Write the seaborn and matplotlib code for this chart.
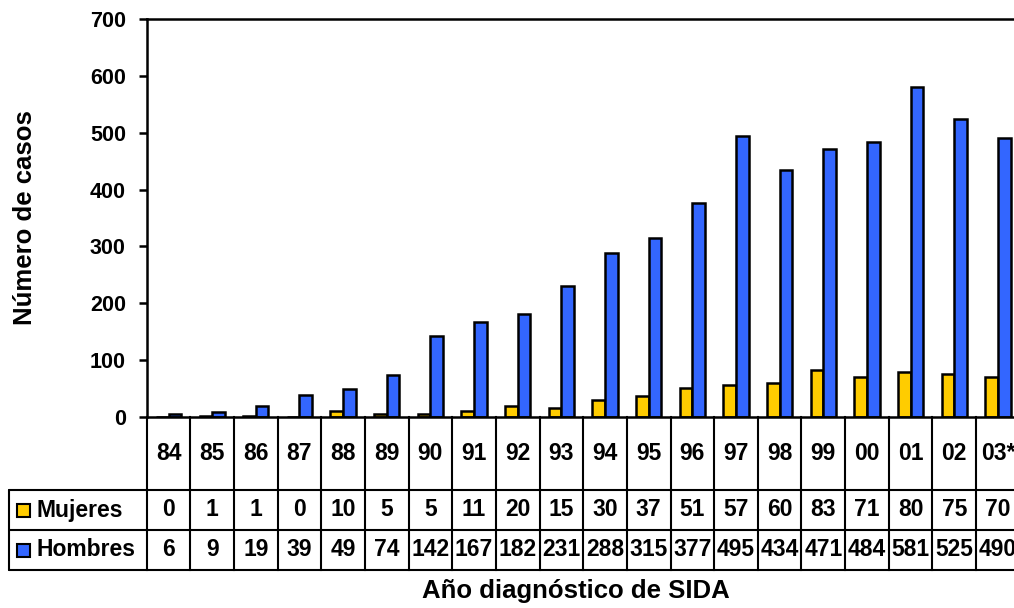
import matplotlib
matplotlib.use("Agg")
import matplotlib.pyplot as plt
import seaborn as sns
import pandas as pd
from matplotlib.lines import Line2D
from matplotlib.patches import Rectangle

# Casos de SIDA por año de diagnóstico y sexo
years = ["84", "85", "86", "87", "88", "89", "90", "91", "92", "93",
         "94", "95", "96", "97", "98", "99", "00", "01", "02", "03*"]
mujeres = [0, 1, 1, 0, 10, 5, 5, 11, 20, 15, 30, 37, 51, 57, 60, 83, 71, 80, 75, 70]
hombres = [6, 9, 19, 39, 49, 74, 142, 167, 182, 231, 288, 315, 377, 495, 434,
           471, 484, 581, 525, 490]
series = ["Mujeres", "Hombres"]
colors = {"Mujeres": "#FFCC00", "Hombres": "#3366FF"}
yticks = [0, 100, 200, 300, 400, 500, 600, 700]

sns.set_theme(style="white")
plt.rcParams["font.family"] = ["Liberation Sans", "DejaVu Sans"]
plt.rcParams["font.weight"] = "bold"
plt.rcParams["text.color"] = "black"
plt.rcParams["axes.labelcolor"] = "black"
plt.rcParams["ytick.color"] = "black"
plt.rcParams["xtick.color"] = "black"

W, H = 1014, 608
fig = plt.figure(figsize=(W / 100, H / 100), dpi=100)

left_px, right_px, top_px, zero_px = 146.7, 1019.7, 19, 417
ax = fig.add_axes([left_px / W, 1 - zero_px / H,
                   (right_px - left_px) / W, (zero_px - top_px) / H])

df = pd.DataFrame({
    "año": years * 2,
    "sexo": [series[0]] * len(years) + [series[1]] * len(years),
    "casos": mujeres + hombres,
})
sns.barplot(data=df, x="año", y="casos", hue="sexo", order=years,
            hue_order=series, palette=colors, saturation=1, width=0.58,
            edgecolor="black", linewidth=1.8, ax=ax, legend=False)

ax.set_xlim(-0.5, len(years) - 0.5)
ax.set_ylim(yticks[0], yticks[-1])
ax.set_yticks(yticks)
ax.set_xticks([])
ax.set_xlabel("")
ax.set_ylabel("")
for side in ("left", "top", "bottom"):
    ax.spines[side].set_visible(True)
    ax.spines[side].set_color("black")
    ax.spines[side].set_linewidth(1.8)
ax.spines["right"].set_visible(False)
ax.tick_params(axis="y", left=True, direction="out", length=6, width=1.8,
               color="black", labelcolor="black", labelsize=15.5, pad=9)
for lab in ax.get_yticklabels():
    lab.set_fontweight("bold")

# Tabla de datos bajo el gráfico
trans = ax.get_xaxis_transform()
axh = zero_px - top_px
r0 = 0.0
r1 = -(490 - zero_px) / axh
r2 = -(530 - zero_px) / axh
r3 = -(570 - zero_px) / axh
lw_tab = 1.5
for i in range(len(years) + 1):
    ax.plot([i - 0.5, i - 0.5], [r0, r3], transform=trans, clip_on=False,
            color="black", lw=lw_tab, solid_capstyle="projecting")


def fx(x):
    return x / W


def fy(y):
    return 1 - y / H


for y in (490, 530, 570):
    fig.add_artist(Line2D([fx(9), fx(1020)], [fy(y), fy(y)],
                          transform=fig.transFigure, color="black", lw=lw_tab))
fig.add_artist(Line2D([fx(9), fx(9)], [fy(490), fy(570)],
                      transform=fig.transFigure, color="black", lw=lw_tab))

fs_tab = 16.5
for i, yr in enumerate(years):
    ax.text(i, (r0 + r1) / 2, yr, transform=trans, ha="center", va="center",
            fontsize=fs_tab, fontweight="bold", clip_on=False)
    ax.text(i, (r1 + r2) / 2, str(mujeres[i]), transform=trans, ha="center",
            va="center", fontsize=fs_tab, fontweight="bold", clip_on=False)
    ax.text(i, (r2 + r3) / 2, str(hombres[i]), transform=trans, ha="center",
            va="center", fontsize=fs_tab, fontweight="bold", clip_on=False)

# Claves de la leyenda en la tabla
for name, ymid in ((series[0], 510), (series[1], 550)):
    fig.add_artist(Rectangle((fx(17), fy(ymid + 7)), 13 / W, 13 / H,
                             transform=fig.transFigure, facecolor=colors[name],
                             edgecolor="black", lw=1.5))
    fig.text(fx(37), fy(ymid), name, ha="left", va="center",
             fontsize=fs_tab, fontweight="bold")

fig.text(fx(576), fy(591), "Año diagnóstico de SIDA", ha="center",
         va="center", fontsize=18.5, fontweight="bold")
fig.text(fx(25), fy(218), "Número de casos", ha="center", va="center",
         rotation=90, fontsize=18.5, fontweight="bold")

fig.savefig("out.png", dpi=100)
